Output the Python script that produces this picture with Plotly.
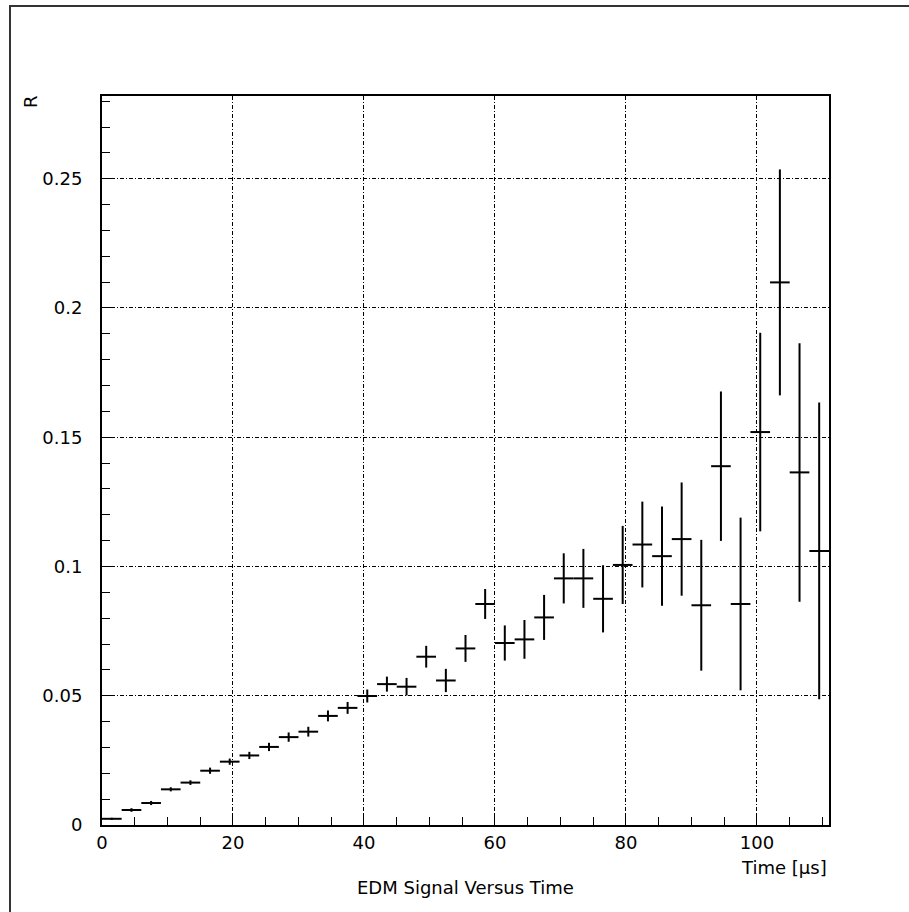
import plotly.graph_objects as go

# ---- data ----
time_us = [1.5, 4.5, 7.5, 10.5, 13.5, 16.5, 19.5, 22.5, 25.5, 28.5,
           31.5, 34.5, 37.5, 40.5, 43.5, 46.5, 49.5, 52.5, 55.5, 58.5,
           61.5, 64.5, 67.5, 70.5, 73.5, 76.5, 79.5, 82.5, 85.5, 88.5,
           91.5, 94.5, 97.5, 100.5, 103.5, 106.5, 109.5]
bin_half_width = 1.5
R_values = [0.0024, 0.0058, 0.0085, 0.0138, 0.0164, 0.0210, 0.0245, 0.0269, 0.0302, 0.0340,
            0.0361, 0.0422, 0.0453, 0.0499, 0.0545, 0.0535, 0.0651, 0.0559, 0.0683, 0.0855,
            0.0704, 0.0718, 0.0803, 0.0954, 0.0954, 0.0875, 0.1006, 0.1085, 0.1040, 0.1106,
            0.0850, 0.1388, 0.0855, 0.1520, 0.2099, 0.1364, 0.1060]
R_errors = [0.0004, 0.0007, 0.0008, 0.0008, 0.0009, 0.0012, 0.0012, 0.0014, 0.0016, 0.0018,
            0.0019, 0.0021, 0.0023, 0.0025, 0.0029, 0.0034, 0.0042, 0.0045, 0.0052, 0.0058,
            0.0068, 0.0075, 0.0087, 0.0097, 0.0114, 0.0130, 0.0151, 0.0166, 0.0192, 0.0219,
            0.0253, 0.0289, 0.0334, 0.0384, 0.0437, 0.0500, 0.0574]
x_range = [0, 111]
y_range = [0, 0.282]
title_text = "EDM Signal Versus Time"
x_title = "Time [µs]"
y_title = "R"

FONT = "DejaVu Sans"
W, H = 909, 912
L, R, T, B = 102, 80, 96, 87
pw, ph = W - L - R, H - T - B


def px_x(px):
    return (px - L) / pw


def px_y(py):
    return (H - B - py) / ph


fig = go.Figure()
fig.add_trace(go.Scatter(
    x=time_us, y=R_values, mode="markers",
    marker=dict(size=1, color="black"),
    error_x=dict(type="constant", value=bin_half_width, width=0, thickness=2, color="black"),
    error_y=dict(type="data", array=R_errors, width=0, thickness=2, color="black"),
    showlegend=False,
))

axis_common = dict(
    showline=True, linecolor="black", linewidth=2, mirror=True,
    showgrid=True, gridcolor="black", gridwidth=1, griddash="4px,2px,1px,2px",
    zeroline=False, ticks="inside", tickcolor="black", ticklen=12, tickwidth=1,
    tickfont=dict(family=FONT, size=18, color="black"),
)

fig.update_xaxes(range=x_range, dtick=20, tick0=0,
                 minor=dict(dtick=5, ticks="inside", ticklen=8, tickcolor="black", showgrid=False),
                 ticklabelstandoff=0, **axis_common)
fig.update_yaxes(range=y_range, dtick=0.05, tick0=0,
                 minor=dict(dtick=0.01, ticks="inside", ticklen=8, tickcolor="black", showgrid=False),
                 ticklabelstandoff=14, **axis_common)

fig.update_layout(
    width=W, height=H, autosize=False,
    margin=dict(l=L, r=R, t=T, b=B),
    paper_bgcolor="white", plot_bgcolor="white",
    font=dict(family=FONT, size=18, color="black"),
    shapes=[dict(type="rect", xref="paper", yref="paper",
                 x0=px_x(10), x1=px_x(918), y0=px_y(920), y1=px_y(6),
                 line=dict(color="#333333", width=2), layer="below")],
    annotations=[
        dict(text=title_text, xref="paper", yref="paper", x=0.5, y=px_y(887),
             xanchor="center", yanchor="middle", showarrow=False,
             font=dict(family=FONT, size=18, color="black")),
        dict(text=x_title, xref="paper", yref="paper", x=px_x(829), y=px_y(868),
             xanchor="right", yanchor="middle", showarrow=False,
             font=dict(family=FONT, size=18, color="black")),
        dict(text=y_title, xref="paper", yref="paper", x=px_x(31), y=px_y(102),
             xanchor="center", yanchor="middle", showarrow=False, textangle=-90,
             font=dict(family=FONT, size=18, color="black")),
    ],
)

fig.write_html("out.html", config={"displayModeBar": False},
               post_script="document.body.style.margin='0px';")
